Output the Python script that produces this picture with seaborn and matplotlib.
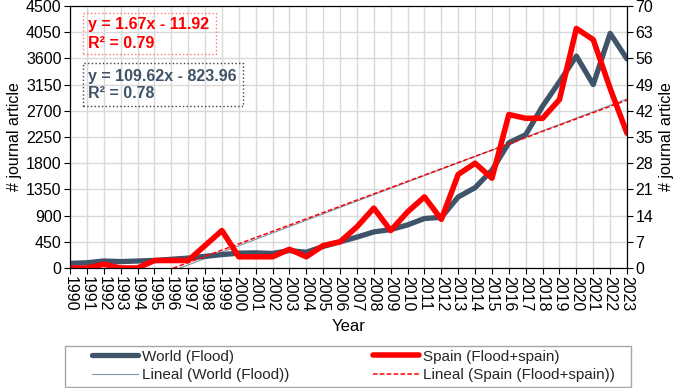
import numpy as np
import pandas as pd
import matplotlib
matplotlib.use("Agg")
import matplotlib.pyplot as plt
import seaborn as sns
from matplotlib.patches import Rectangle
from matplotlib.lines import Line2D

# data
years = list(range(1990, 2024))
world = [80, 90, 120, 110, 120, 130, 150, 170, 200, 230, 255, 260, 250, 300, 270, 370, 450,
         530, 620, 660, 740, 850, 870, 1220, 1380, 1680, 2150, 2290, 2780, 3200, 3640, 3150,
         4030, 3590]
spain = [0, 0, 1, 0, 0, 2, 2, 2, 6, 10, 3, 3, 3, 5, 3, 6, 7, 11, 16, 10, 15, 19, 13, 25,
         28, 24, 41, 40, 40, 45, 64, 61, 48, 36]

# linear trends as printed on the chart (x = 1..n)
world_fit = (109.62, -823.96)
spain_fit = (1.67, -11.92)

left_ticks = list(range(0, 4501, 450))
right_ticks = list(range(0, 71, 7))

blue = "#3F5468"
red = "#FF0000"
fs = 11.5

df = pd.DataFrame({"Year": years, "World": world, "Spain": spain})
n = np.arange(1, len(years) + 1)
df["World_trend"] = world_fit[0] * n + world_fit[1]
df["Spain_trend"] = spain_fit[0] * n + spain_fit[1]

sns.set_theme(style="ticks")
plt.rcParams["font.family"] = ["Liberation Sans", "DejaVu Sans"]

fig, ax = plt.subplots(figsize=(6.85, 3.88), dpi=100)
fig.subplots_adjust(left=70/685, right=627/685, bottom=(388-268)/388, top=(388-6)/388)
ax2 = ax.twinx()

sns.lineplot(data=df, x="Year", y="World_trend", ax=ax, color="#7F93AB", lw=0.8)
sns.lineplot(data=df, x="Year", y="World", ax=ax, color=blue, lw=3.8,
             solid_joinstyle="round", solid_capstyle="round")
sns.lineplot(data=df, x="Year", y="Spain_trend", ax=ax2, color=red, lw=1.1,
             linestyle=(0, (3, 1.5)))
sns.lineplot(data=df, x="Year", y="Spain", ax=ax2, color=red, lw=4,
             solid_joinstyle="round", solid_capstyle="round")

ax.set_xlim(1990, 2023)
ax.set_ylim(0, 4500)
ax2.set_ylim(0, 70)
ax.set_xticks(years)
ax.set_xticklabels([str(y) for y in years], rotation=270, fontsize=fs)
ax.set_yticks(left_ticks)
ax.set_yticklabels([str(v) for v in left_ticks], fontsize=fs)
ax2.set_yticks(right_ticks)
ax2.set_yticklabels([str(v) for v in right_ticks], fontsize=fs)

ax.grid(True, color="#d9d9d9", lw=1)
ax.set_axisbelow(True)
ax2.grid(False)

for a in (ax, ax2):
    for s in a.spines.values():
        s.set_color("black")
        s.set_linewidth(0.8)
    a.tick_params(colors="black", length=4, width=0.8, pad=2)

ax.set_xlabel("Year", fontsize=12, color="black", labelpad=5)
ax.set_ylabel("# journal article", fontsize=fs, color="black", labelpad=3)
ax2.set_ylabel("# journal article", fontsize=fs, color="black", labelpad=4)

# trend equation boxes
fig.patches.append(Rectangle((83/685, 1-54/388), 133/685, 41/388, transform=fig.transFigure,
                             fill=False, edgecolor="#FF7777", lw=1, linestyle=":"))
fig.text(88/685, 1-25/388, "y = 1.67x - 11.92", color=red, fontsize=fs, weight="bold", va="center")
fig.text(88/685, 1-43/388, "R² = 0.79", color=red, fontsize=fs, weight="bold", va="center")
fig.patches.append(Rectangle((83/685, 1-106/388), 160/685, 43/388, transform=fig.transFigure,
                             fill=False, edgecolor="#404040", lw=1, linestyle=":"))
fig.text(88/685, 1-76/388, "y = 109.62x - 823.96", color=blue, fontsize=fs, weight="bold", va="center")
fig.text(88/685, 1-94/388, "R² = 0.78", color=blue, fontsize=fs, weight="bold", va="center")

# legend
handles = [Line2D([], [], color=blue, lw=3.8, solid_capstyle="round"),
           Line2D([], [], color="#7F93AB", lw=0.8),
           Line2D([], [], color=red, lw=4, solid_capstyle="round"),
           Line2D([], [], color=red, lw=1.1, linestyle=(0, (3, 1.5)))]
labels = ["World (Flood)", "Lineal (World (Flood))",
          "Spain (Flood+spain)", "Lineal (Spain (Flood+spain))"]
fig.legend(handles, labels, ncol=2, mode="expand", frameon=False, fontsize=11,
           loc="center", bbox_to_anchor=(83/685, 2/388, 541/685, 40/388),
           handlelength=3.0, handletextpad=0.25, labelspacing=0.3, borderpad=0.1)
fig.patches.append(Rectangle((65/685, 1/388), 566/685, 41/388, transform=fig.transFigure,
                             fill=False, edgecolor="#a6a6a6", lw=1))

fig.savefig("out.png", dpi=100)
